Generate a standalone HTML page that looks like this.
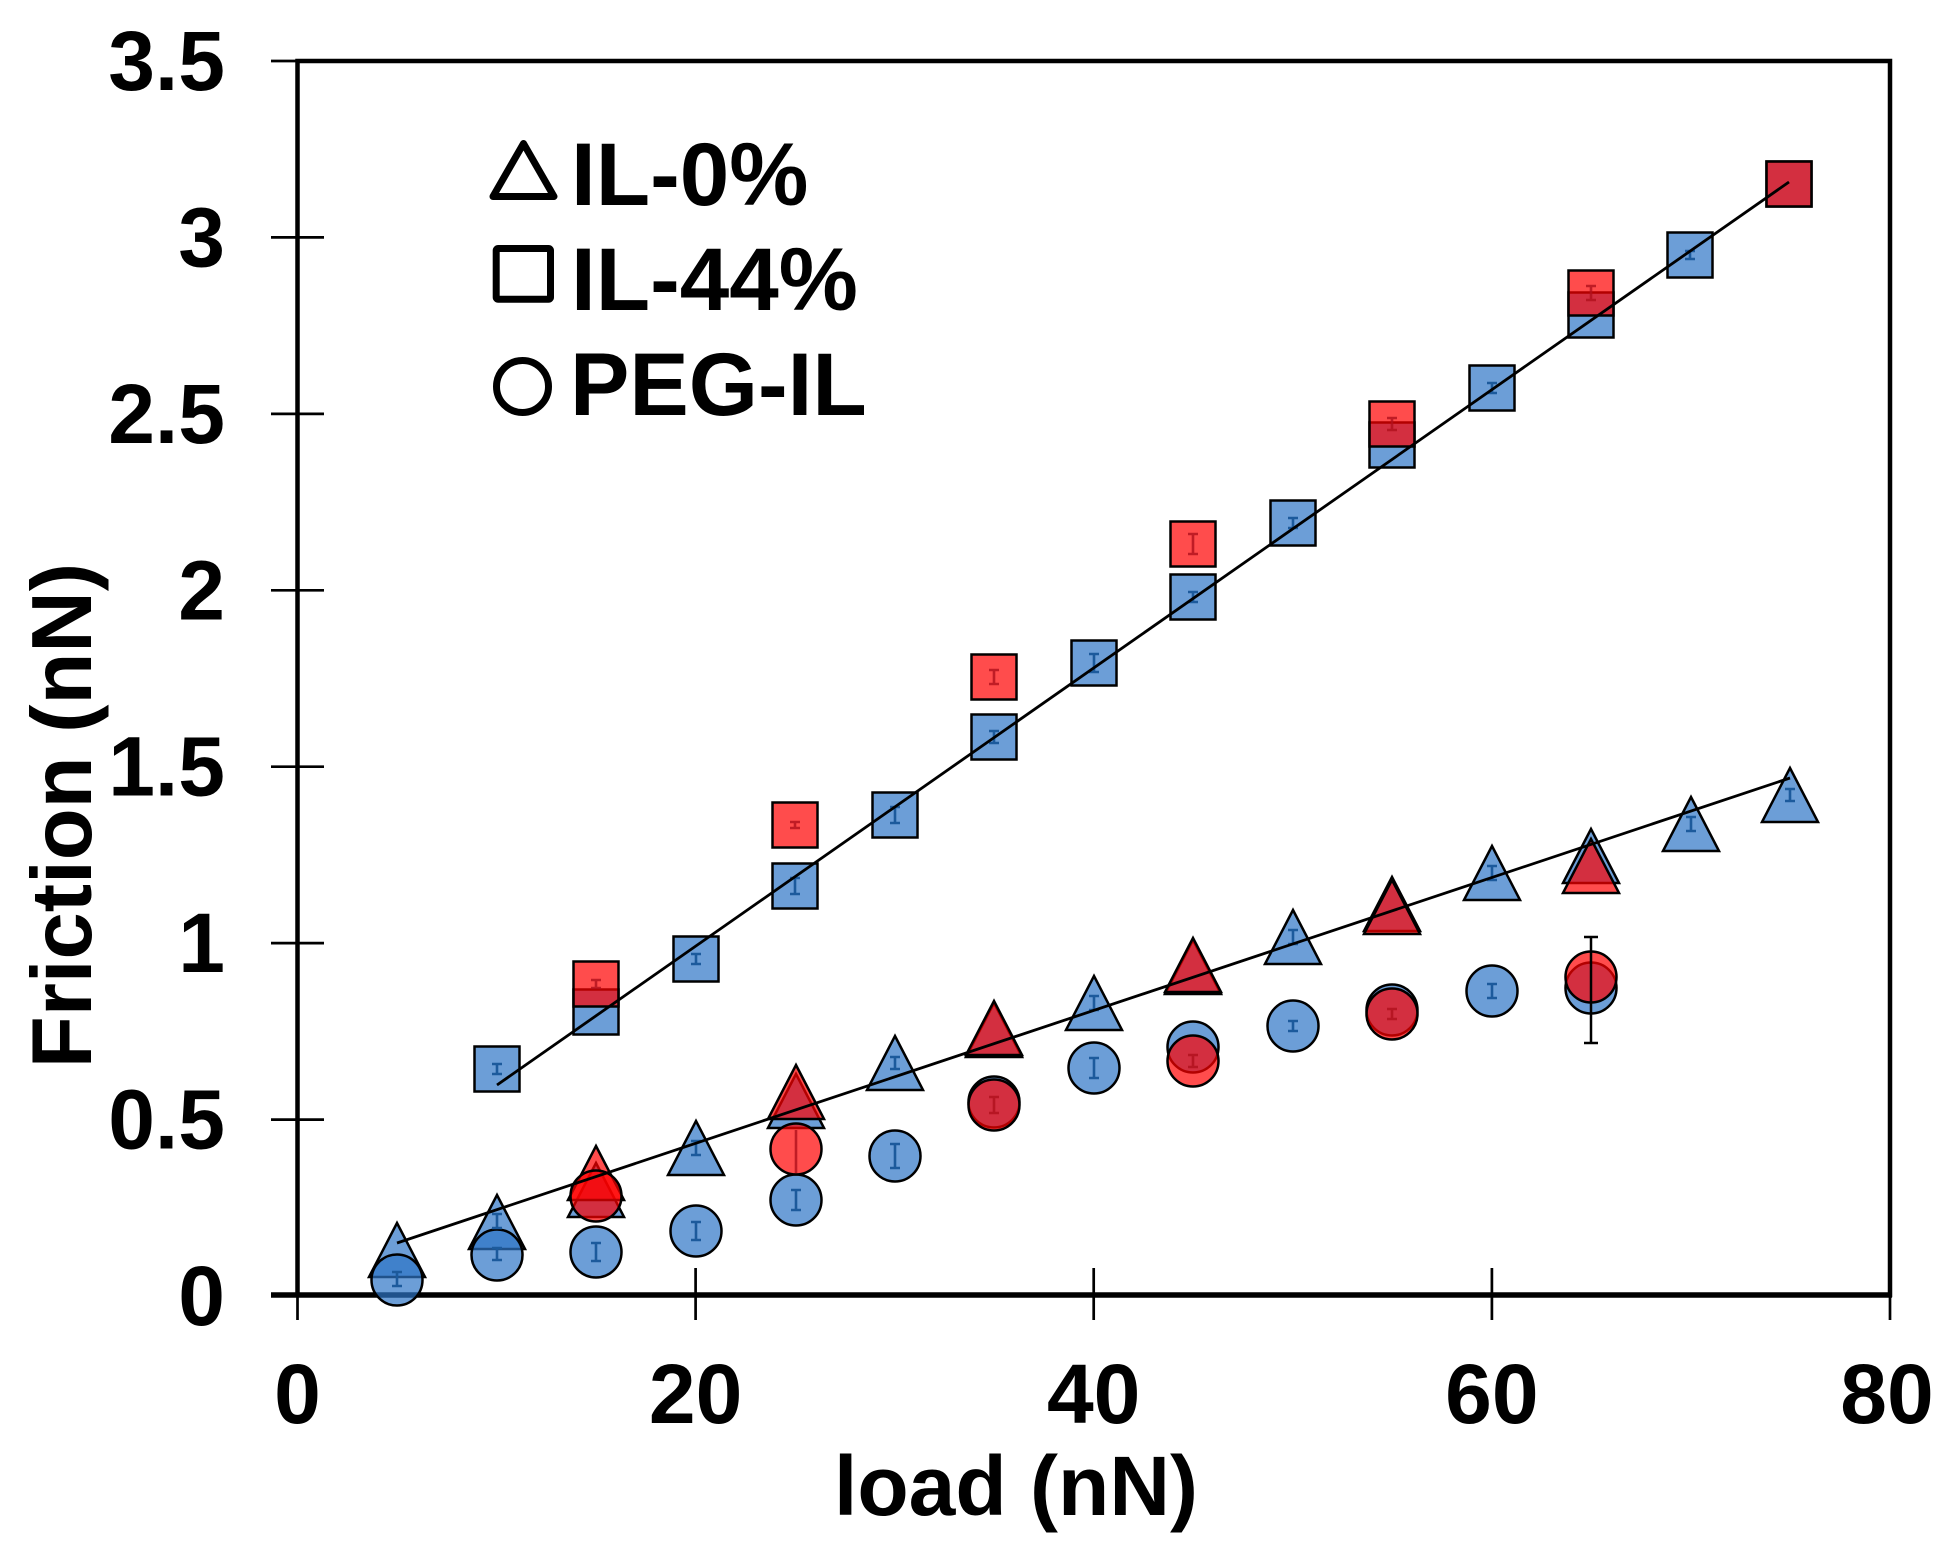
<!DOCTYPE html>
<html>
<head>
<meta charset="utf-8">
<style>
  html, body { margin: 0; padding: 0; background: #ffffff; }
  svg { display: block; }
  text { font-family: "Liberation Sans", Arial, sans-serif; font-weight: bold; fill: #000; }
</style>
</head>
<body>
<svg width="1953" height="1566" viewBox="0 0 1953 1566" xmlns="http://www.w3.org/2000/svg">
  <rect x="0" y="0" width="1953" height="1566" fill="#ffffff"/>

  <!-- Frame -->
  <rect x="297.5" y="61" width="1592.5" height="1234" fill="none" stroke="#000" stroke-width="4.5"/>

  <!-- Y ticks -->
  <g stroke="#000" stroke-width="2.7">
    <line x1="271" y1="61" x2="324" y2="61"/>
    <line x1="271" y1="237.4" x2="324" y2="237.4"/>
    <line x1="271" y1="413.9" x2="324" y2="413.9"/>
    <line x1="271" y1="590.3" x2="324" y2="590.3"/>
    <line x1="271" y1="766.7" x2="324" y2="766.7"/>
    <line x1="271" y1="943.1" x2="324" y2="943.1"/>
    <line x1="271" y1="1119.6" x2="324" y2="1119.6"/>
    <line x1="271" y1="1295" x2="324" y2="1295"/>
  </g>
  <!-- X ticks -->
  <g stroke="#000" stroke-width="2.7">
    <line x1="297.5" y1="1268" x2="297.5" y2="1320"/>
    <line x1="695.6" y1="1268" x2="695.6" y2="1320"/>
    <line x1="1093.7" y1="1268" x2="1093.7" y2="1320"/>
    <line x1="1491.9" y1="1268" x2="1491.9" y2="1320"/>
    <line x1="1890" y1="1268" x2="1890" y2="1320"/>
  </g>
  <line x1="271" y1="1295" x2="1892" y2="1295" stroke="#000" stroke-width="5.5"/>

  <!-- Y tick labels -->
  <g font-size="84" text-anchor="end">
    <text x="225" y="90">3.5</text>
    <text x="225" y="266.4">3</text>
    <text x="225" y="442.9">2.5</text>
    <text x="225" y="619.3">2</text>
    <text x="225" y="795.7">1.5</text>
    <text x="225" y="972.1">1</text>
    <text x="225" y="1148.6">0.5</text>
    <text x="225" y="1325">0</text>
  </g>
  <!-- X tick labels -->
  <g font-size="84" text-anchor="middle">
    <text x="297.5" y="1423">0</text>
    <text x="695.6" y="1423">20</text>
    <text x="1093.7" y="1423">40</text>
    <text x="1491.9" y="1423">60</text>
    <text x="1887" y="1423">80</text>
  </g>

  <!-- Axis titles -->
  <text x="1016" y="1515" font-size="84" text-anchor="middle">load (nN)</text>
  <text x="0" y="0" font-size="85" text-anchor="middle" transform="translate(91,815.5) rotate(-90)">Friction (nN)</text>

  <!-- Legend -->
  <g fill="none" stroke="#000" stroke-width="7" stroke-linejoin="round">
    <polygon points="523.5,143.5 554,196.5 493,196.5"/>
    <rect x="496.2" y="248.5" width="54.3" height="50.7" rx="2"/>
    <circle cx="522.5" cy="386.5" r="26"/>
  </g>
  <g font-size="89">
    <text x="571" y="205">IL-0%</text>
    <text x="571" y="310">IL-44%</text>
    <text x="570" y="415">PEG-IL</text>
  </g>

  <!-- Blue triangles (IL-0%) -->
  <g fill="#2E75C6" fill-opacity="0.7" stroke="#000" stroke-width="2.5" stroke-linejoin="miter">
    <polygon points="397,1223 425,1277 369,1277"/>
    <polygon points="497,1195 525,1249 469,1249"/>
    <polygon points="596,1163 624,1217 568,1217"/>
    <polygon points="696,1121 724,1175 668,1175"/>
    <polygon points="796,1074 824,1128 768,1128"/>
    <polygon points="895,1036 923,1090 867,1090"/>
    <polygon points="994,1003 1022,1057 966,1057"/>
    <polygon points="1094,976 1122,1030 1066,1030"/>
    <polygon points="1193,940 1221,994 1165,994"/>
    <polygon points="1293,910 1321,964 1265,964"/>
    <polygon points="1392,877 1420,931 1364,931"/>
    <polygon points="1492,846 1520,900 1464,900"/>
    <polygon points="1591,829 1619,883 1563,883"/>
    <polygon points="1691,797 1719,851 1663,851"/>
    <polygon points="1790,768 1818,822 1762,822"/>
  </g>

  <!-- Blue squares (IL-44%) -->
  <g fill="#2E75C6" fill-opacity="0.7" stroke="#000" stroke-width="2.5">
    <rect x="474.5" y="1046.5" width="45" height="45"/>
    <rect x="573.5" y="989.5" width="45" height="45"/>
    <rect x="673.5" y="936.5" width="45" height="45"/>
    <rect x="772.5" y="863.5" width="45" height="45"/>
    <rect x="872.5" y="792.5" width="45" height="45"/>
    <rect x="971.5" y="714.5" width="45" height="45"/>
    <rect x="1071.5" y="640.5" width="45" height="45"/>
    <rect x="1170.5" y="574.5" width="45" height="45"/>
    <rect x="1270.5" y="500.5" width="45" height="45"/>
    <rect x="1369.5" y="422.5" width="45" height="45"/>
    <rect x="1469.5" y="365.5" width="45" height="45"/>
    <rect x="1568.5" y="292.5" width="45" height="45"/>
    <rect x="1667.5" y="232.5" width="45" height="45"/>
    <rect x="1766.5" y="161.5" width="45" height="45"/>
  </g>

  <!-- Blue circles (PEG-IL) -->
  <g fill="#2E75C6" fill-opacity="0.7" stroke="#000" stroke-width="2.5">
    <circle cx="397" cy="1280" r="25.5"/>
    <circle cx="497" cy="1255" r="25.5"/>
    <circle cx="596" cy="1252" r="25.5"/>
    <circle cx="696" cy="1231" r="25.5"/>
    <circle cx="796" cy="1200" r="25.5"/>
    <circle cx="895" cy="1156" r="25.5"/>
    <circle cx="994" cy="1102" r="25.5"/>
    <circle cx="1094" cy="1068" r="25.5"/>
    <circle cx="1193" cy="1047" r="25.5"/>
    <circle cx="1293" cy="1026" r="25.5"/>
    <circle cx="1392" cy="1010" r="25.5"/>
    <circle cx="1492" cy="991" r="25.5"/>
    <circle cx="1591" cy="988" r="25.5"/>
  </g>

  <!-- Blue error bars (small) -->
  <g stroke="#1C5A9C" stroke-width="2.6" fill="none">
    <path d="M397,1272 v14 M392,1272 h10 M392,1286 h10"/>
    <path d="M497,1248 v12 M492,1248 h10 M492,1260 h10"/>
    <path d="M596,1243 v18 M591,1243 h10 M591,1261 h10"/>
    <path d="M696,1222 v18 M691,1222 h10 M691,1240 h10"/>
    <path d="M796,1190 v20 M791,1190 h10 M791,1210 h10"/>
    <path d="M895,1144 v24 M890,1144 h10 M890,1168 h10"/>
    <path d="M1094,1058 v20 M1089,1058 h10 M1089,1078 h10"/>
    <path d="M1293,1021 v10 M1288,1021 h10 M1288,1031 h10"/>
    <path d="M1492,984 v14 M1487,984 h10 M1487,998 h10"/>
    <path d="M497,1214 v14 M492,1214 h10 M492,1228 h10"/>
    <path d="M696,1141 v14 M691,1141 h10 M691,1155 h10"/>
    <path d="M895,1057 v12 M890,1057 h10 M890,1069 h10"/>
    <path d="M1094,996 v14 M1089,996 h10 M1089,1010 h10"/>
    <path d="M1293,930 v14 M1288,930 h10 M1288,944 h10"/>
    <path d="M1492,866 v14 M1487,866 h10 M1487,880 h10"/>
    <path d="M1691,817 v14 M1686,817 h10 M1686,831 h10"/>
    <path d="M1790,789 v12 M1785,789 h10 M1785,801 h10"/>
    <path d="M497,1064 v10 M492,1064 h10 M492,1074 h10"/>
    <path d="M696,954 v10 M691,954 h10 M691,964 h10"/>
    <path d="M795,878 v16 M790,878 h10 M790,894 h10"/>
    <path d="M895,807 v16 M890,807 h10 M890,823 h10"/>
    <path d="M994,731 v12 M989,731 h10 M989,743 h10"/>
    <path d="M1094,654 v18 M1089,654 h10 M1089,672 h10"/>
    <path d="M1193,592 v10 M1188,592 h10 M1188,602 h10"/>
    <path d="M1293,518 v10 M1288,518 h10 M1288,528 h10"/>
    <path d="M1492,383 v10 M1487,383 h10 M1487,393 h10"/>
    <path d="M1690,251 v8 M1685,251 h10 M1685,259 h10"/>
  </g>

  <!-- Red triangles -->
  <g fill="#FF0000" fill-opacity="0.7" stroke="#000" stroke-width="2.5">
    <polygon points="596,1146 624,1200 568,1200"/>
    <polygon points="796,1065 824,1119 768,1119"/>
    <polygon points="994,1001 1022,1055 966,1055"/>
    <polygon points="1193,938 1221,992 1165,992"/>
    <polygon points="1392,880 1420,934 1364,934"/>
    <polygon points="1591,839 1619,893 1563,893"/>
  </g>

  <!-- Red squares -->
  <g fill="#FF0000" fill-opacity="0.7" stroke="#000" stroke-width="2.5">
    <rect x="573.5" y="961.5" width="45" height="45"/>
    <rect x="772.5" y="802.5" width="45" height="45"/>
    <rect x="971.5" y="654.5" width="45" height="45"/>
    <rect x="1170.5" y="521.5" width="45" height="45"/>
    <rect x="1369.5" y="401.5" width="45" height="45"/>
    <rect x="1568.5" y="270.5" width="45" height="45"/>
    <rect x="1766.5" y="161.5" width="45" height="45"/>
  </g>

  <!-- Red circles -->
  <g fill="#FF0000" fill-opacity="0.7" stroke="#000" stroke-width="2.5">
    <circle cx="596" cy="1196" r="25.5"/>
    <circle cx="796" cy="1149" r="25.5"/>
    <circle cx="994" cy="1105" r="25.5"/>
    <circle cx="1193" cy="1061" r="25.5"/>
    <circle cx="1392" cy="1014" r="25.5"/>
    <circle cx="1591" cy="977" r="25.5"/>
  </g>

  <!-- Red error bars -->
  <g stroke="#B0101C" stroke-opacity="0.8" stroke-width="2.6" fill="none">
    <path d="M596,980 v8 M591,980 h10 M591,988 h10"/>
    <path d="M795,822 v6 M790,822 h10 M790,828 h10"/>
    <path d="M994,670 v14 M989,670 h10 M989,684 h10"/>
    <path d="M1193,534 v20 M1188,534 h10 M1188,554 h10"/>
    <path d="M1392,418 v12 M1387,418 h10 M1387,430 h10"/>
    <path d="M1591,286 v14 M1586,286 h10 M1586,300 h10"/>
    <path d="M994,1097 v16 M989,1097 h10 M989,1113 h10"/>
    <path d="M1193,1055 v12 M1188,1055 h10 M1188,1067 h10"/>
    <path d="M1392,1009 v10 M1387,1009 h10 M1387,1019 h10"/>
    <path d="M796,1130 v43"/>
  </g>

  <!-- Black error bar at 65 -->
  <g stroke="#000" stroke-width="2.5" fill="none">
    <path d="M1591,937 V1043 M1584,937 h14 M1584,1043 h14"/>
  </g>

  <!-- Linear fits -->
  <g stroke="#000" stroke-width="2.8" fill="none">
    <line x1="397" y1="1243" x2="1790" y2="778"/>
    <line x1="497" y1="1085" x2="1789" y2="182"/>
  </g>
</svg>
</body>
</html>
